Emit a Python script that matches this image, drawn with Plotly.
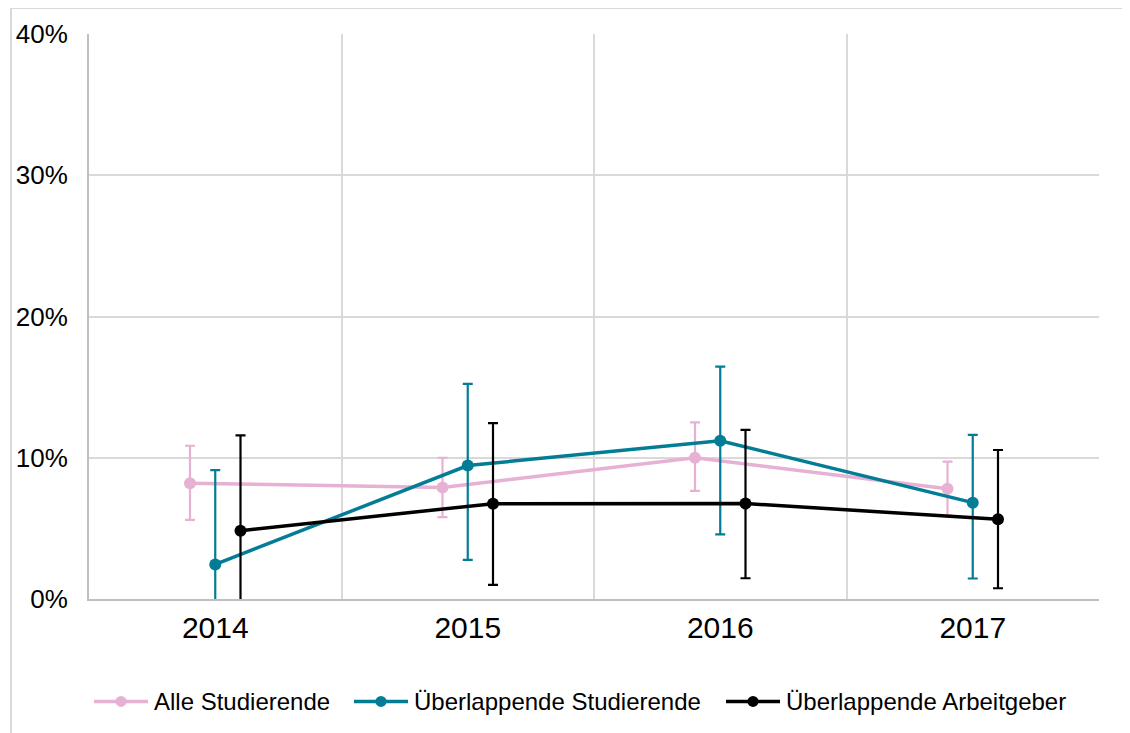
import plotly.graph_objects as go

years = ["2014", "2015", "2016", "2017"]
series_names = ["Alle Studierende", "Überlappende Studierende", "Überlappende Arbeitgeber"]

alle_val = [8.2, 7.9, 10.0, 7.8]
alle_low = [5.6, 5.8, 7.65, 5.9]
alle_high = [10.85, 10.0, 12.5, 9.73]

ueb_stud_val = [2.45, 9.45, 11.2, 6.82]
ueb_stud_low = [-4.2, 2.77, 4.58, 1.45]
ueb_stud_high = [9.13, 15.23, 16.45, 11.62]

ueb_arb_val = [4.84, 6.75, 6.76, 5.65]
ueb_arb_low = [-1.9, 1.0, 1.47, 0.76]
ueb_arb_high = [11.58, 12.45, 11.97, 10.55]

y_ticks = [0, 10, 20, 30, 40]

colors = ["#E6B1D3", "#037D95", "#000000"]
offsets = [-0.1, 0.0, 0.1]

data = [
    (alle_val, alle_low, alle_high),
    (ueb_stud_val, ueb_stud_low, ueb_stud_high),
    (ueb_arb_val, ueb_arb_low, ueb_arb_high),
]

# plot area geometry (screen px), page body has an 8px margin
PL, PR, PT, PB = 89, 1099, 34, 599.5
PW, PH = PR - PL, PB - PT


def px(sx):
    return (sx - PL) / PW


def py(sy):
    return (PB - sy) / PH


fig = go.Figure()
for name, (vals, lows, highs), col, off in zip(series_names, data, colors, offsets):
    xs = [i + off for i in range(len(years))]
    fig.add_trace(go.Scatter(
        x=xs, y=vals, name=name, mode="lines+markers", showlegend=False,
        line=dict(color=col, width=3.5),
        marker=dict(color=col, size=12),
        error_y=dict(
            type="data", symmetric=False,
            array=[h - v for h, v in zip(highs, vals)],
            arrayminus=[v - l for v, l in zip(vals, lows)],
            color=col, thickness=2.2, width=5,
        ),
    ))

# custom legend (line + marker + label), laid out like the original
legend_line_starts = [94, 354, 726]
LEG_LINE_LEN = 54
LEG_Y = 702
shapes = [dict(
    type="rect", xref="paper", yref="paper",
    x0=px(11), x1=px(1150), y0=py(760), y1=py(8),
    line=dict(color="#D9D9D9", width=2), fillcolor="rgba(0,0,0,0)", layer="below",
)]
annotations = []
for name, col, x0 in zip(series_names, colors, legend_line_starts):
    x1 = x0 + LEG_LINE_LEN
    xm = (x0 + x1) / 2
    shapes.append(dict(type="line", xref="paper", yref="paper",
                       x0=px(x0), x1=px(x1), y0=py(LEG_Y), y1=py(LEG_Y),
                       line=dict(color=col, width=3.5)))
    r = 5.5
    shapes.append(dict(type="circle", xref="paper", yref="paper",
                       x0=px(xm - r), x1=px(xm + r), y0=py(LEG_Y + r), y1=py(LEG_Y - r),
                       line=dict(color=col, width=0), fillcolor=col))
    annotations.append(dict(xref="paper", yref="paper", x=px(x1 + 4), y=py(LEG_Y),
                            xanchor="left", yanchor="middle", showarrow=False,
                            text=name, font=dict(size=24, color="black")))

n = len(years)
fig.update_layout(
    width=1122, height=725,
    margin=dict(l=PL - 8, r=1130 - PR, t=PT - 8, b=733 - PB),
    paper_bgcolor="white", plot_bgcolor="white",
    font=dict(family="Liberation Sans, Arial, sans-serif", color="black"),
    showlegend=False,
    xaxis=dict(
        range=[-0.5, n - 0.5], automargin=False,
        tickmode="array", tickvals=list(range(n)), ticktext=years,
        showgrid=False, zeroline=False,
        showline=True, linecolor="#BFBFBF", linewidth=2,
        ticks="", tickfont=dict(size=30), ticklabelstandoff=1,
        minor=dict(tickmode="array", tickvals=[i - 0.5 for i in range(n + 1)],
                   showgrid=True, gridcolor="#D9D9D9", gridwidth=2, ticks=""),
    ),
    yaxis=dict(
        range=[0, 40], automargin=False,
        tickmode="array", tickvals=y_ticks, ticktext=[f"{t}%" for t in y_ticks],
        showgrid=True, gridcolor="#D9D9D9", gridwidth=2, zeroline=False,
        showline=True, linecolor="#BFBFBF", linewidth=2,
        ticks="", tickfont=dict(size=26), ticklabelstandoff=14,
    ),
    shapes=shapes,
    annotations=annotations,
)

fig.write_html("out.html")
